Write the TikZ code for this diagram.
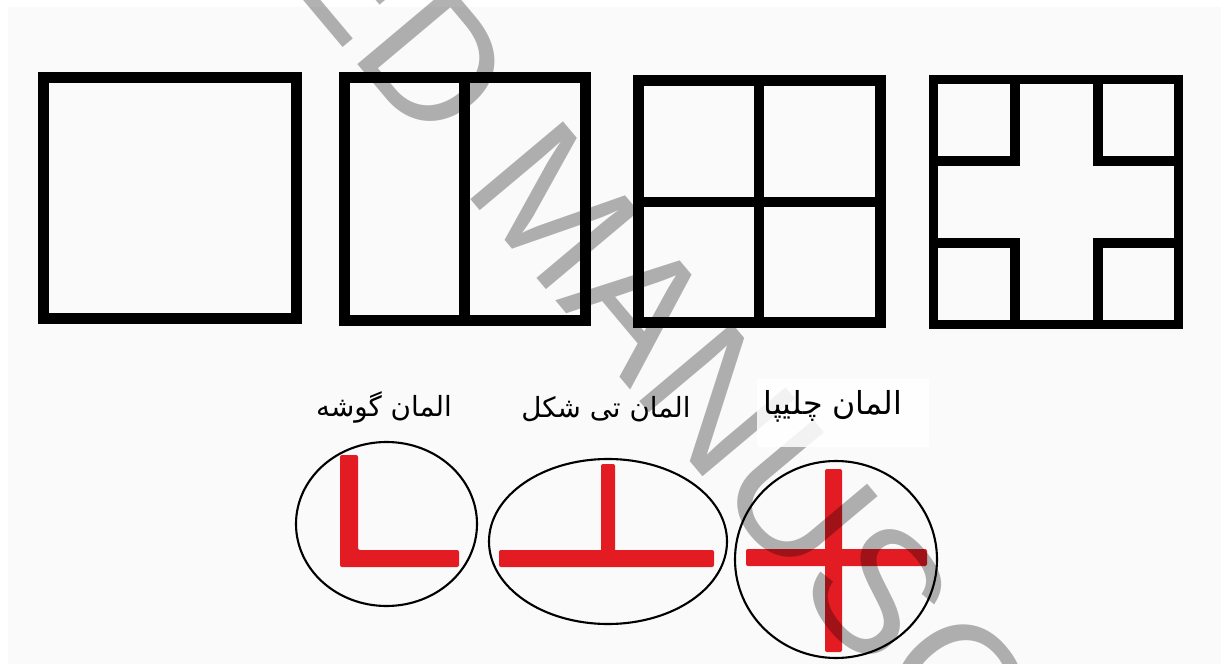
\documentclass[tikz,border=0pt]{standalone}
\usepackage{fontspec}
\newfontfamily\arabicfont[Script=Arabic]{DejaVu Sans}
\newfontfamily\markfont{Liberation Sans}
\TeXXeTstate=1
\definecolor{elred}{RGB}{227,27,35}
\definecolor{paper}{RGB}{250,250,250}

\begin{document}
\begin{tikzpicture}[x=0.01cm,y=-0.01cm,
        frame/.style={draw=black,line width=0.11cm},
        thinframe/.style={draw=black,line width=0.095cm},
        ring/.style={draw=black,line width=0.6pt},
        redbar/.style={fill=elred,rounded corners=0.02cm},
        elname/.style={font=\arabicfont\fontsize{7.9}{9}\selectfont,inner sep=0pt}]
    \useasboundingbox (0,0) rectangle (1221,664);
    \fill[paper] (8,7) rectangle (1221,664);
    % the four panels
    \draw[frame] (43.5,77.5) rectangle (296.5,318.5);
    \draw[frame] (344.5,77.5) rectangle (585.5,320.5);
    \draw[frame] (464,77.5) -- (464,320.5);
    \draw[frame] (638.5,80.5) rectangle (880.5,322.5);
    \draw[frame,line width=0.1cm] (759,80.5) -- (759,322.5) (638.5,202) -- (880.5,202);
    \draw[thinframe] (933.5,79.5) rectangle (1178.5,324.5);
    \draw[thinframe] (1015,79.5) -- (1015,161) -- (933.5,161)
        (1098,79.5) -- (1098,161) -- (1178.5,161)
        (933.5,243) -- (1015,243) -- (1015,324.5)
        (1178.5,243) -- (1098,243) -- (1098,324.5);
    % elements
    \draw[ring] (386.5,524) ellipse [x radius=90.5, y radius=82];
    \draw[ring] (608,541.5) ellipse [x radius=119, y radius=82.5];
    \draw[ring] (836,559.5) ellipse [x radius=101, y radius=98.5];
    \fill[redbar] (340,455) -- (358,455) -- (358,550) -- (459,550) -- (459,567) -- (340,567) -- cycle;
    \fill[redbar] (499,550) rectangle (714,567);
    \fill[redbar] (601,464) rectangle (615,552);
    \fill[redbar] (746,549) rectangle (927,566);
    \fill[redbar] (825,469) rectangle (842,652);
    % stamp
    \begin{scope}
        \clip (0,0) rectangle (1221,664);
        \node[anchor=base west,rotate=-50,inner sep=0pt,text=black,text opacity=0.3,
            font=\markfont\fontsize{50}{50}\selectfont] (stamp) at (-186,-583) {ACCEPTED MANUSCRIPT};
    \end{scope}
    \fill[white,opacity=0.85] (757,379) rectangle (929,447);
    \node[elname] (corner) at (384,407) {\beginR المان گوشه\endR};
    \node[elname] (tee) at (606,409) {\beginR المان تی شکل\endR};
    \node[elname,font=\arabicfont\fontsize{9}{10}\selectfont] (cross) at (833,406) {\beginR المان چلیپا\endR};
\end{tikzpicture}
\end{document}
